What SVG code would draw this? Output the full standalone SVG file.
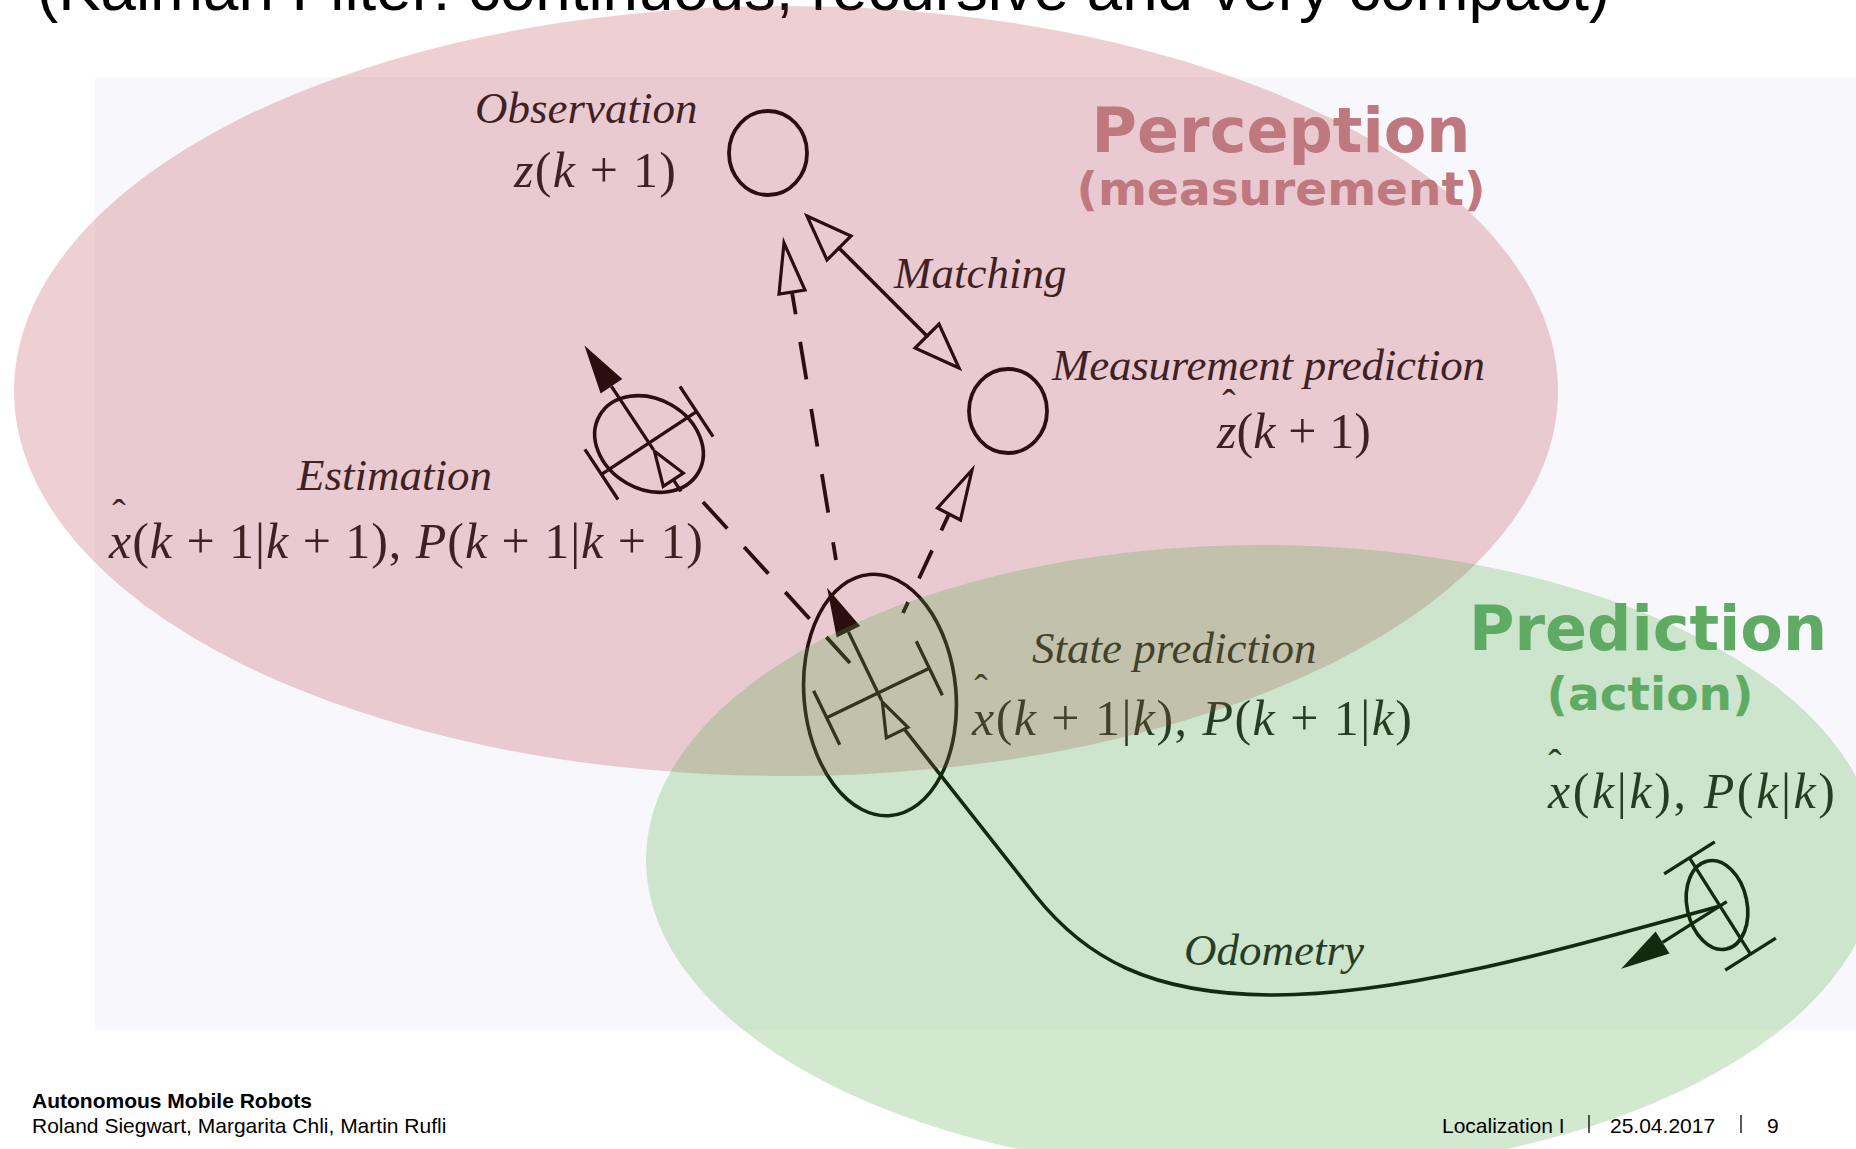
<svg xmlns="http://www.w3.org/2000/svg" xmlns:xlink="http://www.w3.org/1999/xlink" width="1856" height="1149" viewBox="0 0 1856 1149">
<style>
.ink{fill:none;stroke:#000;stroke-width:3.6;stroke-linecap:round}
.circ{fill:none;stroke:#000;stroke-width:3.8}
.dash{fill:none;stroke:#000;stroke-width:3.8}
.hollow{fill:none;stroke:#000;stroke-width:3.2;stroke-linejoin:miter}
.lbl{font-family:"Liberation Serif","Times New Roman",serif;font-size:45px;font-style:italic;fill:#1a1a1a}
.math{font-family:"Liberation Serif","Times New Roman",serif;font-size:50px;fill:#1a1a1a}
.it{font-style:italic}
.hat{font-family:"Liberation Serif","Times New Roman",serif;font-size:40px;fill:#1a1a1a;text-anchor:middle}
.big{font-family:"DejaVu Sans","Verdana",sans-serif;font-weight:bold;text-anchor:middle}
.foot{font-family:"Liberation Sans",Arial,sans-serif;font-size:21px;fill:#000}
</style>
<defs>
<g id="robot">
<line x1="-57" y1="0" x2="57" y2="0" stroke="#000" stroke-width="3.3"/>
<line x1="-57" y1="-30" x2="-57" y2="30" stroke="#000" stroke-width="3.3"/>
<line x1="57" y1="-30" x2="57" y2="30" stroke="#000" stroke-width="3.3"/>
<line x1="0" y1="-68" x2="0" y2="8" stroke="#000" stroke-width="3.3"/>
<polygon points="0,-117 -13,-68 13,-68" fill="#000"/>
</g>
<g id="tail">
<polygon points="0,10 -12,44 12,44" fill="none" stroke="#000" stroke-width="3.2"/>
</g>
</defs>

<rect x="0" y="0" width="1856" height="1149" fill="#ffffff"/>
<rect x="95" y="77" width="1761" height="953" fill="#f8f8fc"/>

<text x="37" y="10" font-family="Liberation Sans, Arial, sans-serif" font-size="63" textLength="1573" lengthAdjust="spacingAndGlyphs" fill="#000">(Kalman Filter: continuous, recursive and very compact)</text>

<g id="observation">
<ellipse class="circ" cx="768" cy="153" rx="39" ry="42"/>
<text class="lbl" x="475" y="123">Observation</text>
<text class="math" x="514" y="187" textLength="162"><tspan class="it">z</tspan>(<tspan class="it">k</tspan> + 1)</text>
</g>

<g id="measurement-prediction">
<ellipse class="circ" cx="1008" cy="411" rx="39" ry="42"/>
<text class="lbl" x="1052" y="380" textLength="433">Measurement prediction</text>
<text class="hat" x="1229" y="417">ˆ</text>
<text class="math" x="1217" y="448" textLength="154"><tspan class="it">z</tspan>(<tspan class="it">k</tspan> + 1)</text>
</g>

<g id="estimation">
<ellipse class="ink" cx="649" cy="444" rx="57" ry="45" transform="rotate(30 649 444)"/>
<g transform="translate(649,443) rotate(-33.5)">
<use xlink:href="#robot"/>
<use xlink:href="#tail"/>
<line x1="0" y1="44" x2="0" y2="58" stroke="#000" stroke-width="3.3"/>
</g>
<text class="lbl" x="297" y="490">Estimation</text>
<text class="hat" x="119" y="527">ˆ</text>
<text class="math" x="109" y="558" textLength="594"><tspan class="it">x</tspan>(<tspan class="it">k</tspan> + 1|<tspan class="it">k</tspan> + 1), <tspan class="it">P</tspan>(<tspan class="it">k</tspan> + 1|<tspan class="it">k</tspan> + 1)</text>
</g>

<g id="state-prediction">
<ellipse class="ink" cx="880" cy="695" rx="76" ry="121" transform="rotate(-5 880 695)"/>
<g transform="translate(878,693) rotate(-25.8)">
<use xlink:href="#robot"/>
<use xlink:href="#tail"/>
</g>
<text class="lbl" x="1032" y="663">State prediction</text>
<text class="hat" x="981" y="702">ˆ</text>
<text class="math" x="972" y="735" textLength="440"><tspan class="it">x</tspan>(<tspan class="it">k</tspan> + 1|<tspan class="it">k</tspan>), <tspan class="it">P</tspan>(<tspan class="it">k</tspan> + 1|<tspan class="it">k</tspan>)</text>
</g>

<g id="previous-state">
<ellipse class="ink" cx="1717" cy="905" rx="30" ry="45" transform="rotate(-12 1717 905)"/>
<g transform="translate(1720,906) rotate(-122.4)">
<use xlink:href="#robot"/>
</g>
<text class="hat" x="1555" y="777">ˆ</text>
<text class="math" x="1548" y="808" textLength="287"><tspan class="it">x</tspan>(<tspan class="it">k</tspan>|<tspan class="it">k</tspan>), <tspan class="it">P</tspan>(<tspan class="it">k</tspan>|<tspan class="it">k</tspan>)</text>
</g>

<g id="connectors">
<line class="ink" x1="839" y1="248" x2="927" y2="336"/>
<polygon class="hollow" points="807,216 851,236 827,260"/>
<polygon class="hollow" points="959,368 939,324 915,348"/>
<text class="lbl" x="894" y="288">Matching</text>
<path class="dash" d="M703,502 L850,663" stroke-dasharray="36 25"/>
<path class="dash" d="M836,560 L792,292" stroke-dasharray="18 30 39 28 38 30 38 28 22"/>
<polygon class="hollow" points="784,243 779,294 805,290"/>
<path class="dash" d="M903,613 L949,514" stroke-dasharray="12 26 31 22 18"/>
<polygon class="hollow" points="972,470 937.5,508 960.5,520"/>
<path class="ink" d="M905,730 L1035,895 C1085,958 1150,994 1270,995 C1400,996 1560,950 1720,906"/>
<text class="lbl" x="1184" y="965">Odometry</text>
</g>

<ellipse cx="786" cy="391" rx="772" ry="385" fill="rgb(184,60,72)" fill-opacity="0.24"/>
<ellipse cx="1262" cy="860" rx="616" ry="315" fill="rgb(76,168,64)" fill-opacity="0.25"/>

<g id="perception-label">
<text class="big" x="1281" y="152" font-size="62" fill="#c0787f">Perception</text>
<text class="big" x="1281" y="205" font-size="47" fill="#c0787f">(measurement)</text>
</g>
<g id="prediction-label">
<text class="big" x="1648" y="650" font-size="62" fill="#5fab63">Prediction</text>
<text class="big" x="1650" y="710" font-size="47" fill="#5fab63">(action)</text>
</g>

<g id="footer">
<text class="foot" x="32" y="1108" font-weight="bold">Autonomous Mobile Robots</text>
<text class="foot" x="32" y="1133">Roland Siegwart, Margarita Chli, Martin Rufli</text>
<text class="foot" x="1442" y="1133">Localization I</text>
<line x1="1589" y1="1115" x2="1589" y2="1133" stroke="#000" stroke-width="1.3"/>
<text class="foot" x="1610" y="1133">25.04.2017</text>
<line x1="1741" y1="1115" x2="1741" y2="1133" stroke="#000" stroke-width="1.3"/>
<text class="foot" x="1767" y="1133">9</text>
</g>
</svg>
